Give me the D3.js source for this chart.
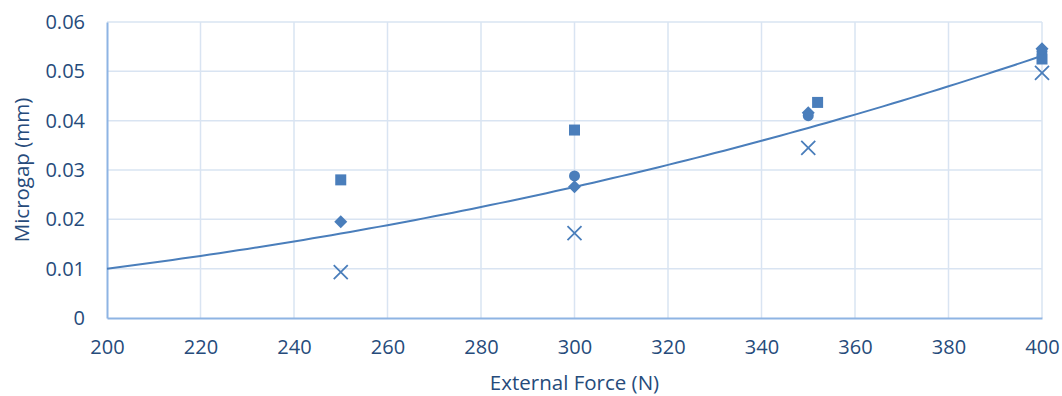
<!DOCTYPE html>
<html>
<head>
<meta charset="utf-8">
<script src="https://cdn.jsdelivr.net/npm/d3@7"></script>
<style>
  html, body { margin: 0; padding: 0; background: #fff; }
  svg { display: block; }
  text { font-family: "Open Sans", "Liberation Sans", sans-serif; fill: #264b7b; }
</style>
</head>
<body>
<svg id="chart" width="1062" height="396"></svg>
<script>
// External force applied (N)
const forces = [250, 300, 350, 400];

// Measured microgap (mm) for each specimen group (null = not measured)
const groupSquare  = [0.0280, 0.0381, 0.0437, 0.0525];
const groupCircle  = [null,   0.0288, 0.0410, 0.0540];
const groupDiamond = [0.0195, 0.0266, 0.0416, 0.0546];
const groupCross   = [0.0093, 0.0172, 0.0345, 0.0497];

// Power trendline y = c * (x / 200)^k
const trendAt200 = 0.0100;
const trendExponent = 2.41;

// Axis ticks
const xTicks = [200, 220, 240, 260, 280, 300, 320, 340, 360, 380, 400];
const yTicks = [0, 0.01, 0.02, 0.03, 0.04, 0.05, 0.06];

const svg = d3.select("#chart");
const margin = { left: 107, right: 20, top: 22, bottom: 78 };
const W = 1062, H = 396;

const x = d3.scaleLinear().domain([200, 400]).range([margin.left, W - margin.right]);
const y = d3.scaleLinear().domain([0, 0.06]).range([H - margin.bottom, margin.top]);

const markColor = "#4a7ebb";

// Gridlines
const grid = svg.append("g");
grid.selectAll("line.v").data(xTicks.slice(1)).join("line")
  .attr("x1", d => x(d)).attr("x2", d => x(d))
  .attr("y1", y(0)).attr("y2", y(0.06))
  .attr("stroke", "#d9e4f2").attr("stroke-width", 1.5);
grid.selectAll("line.h").data(yTicks.slice(1)).join("line")
  .attr("x1", x(200)).attr("x2", x(400))
  .attr("y1", d => y(d)).attr("y2", d => y(d))
  .attr("stroke", "#d9e4f2").attr("stroke-width", 1.5);

// Axes
const xAxis = d3.axisBottom(x).tickValues(xTicks).tickSize(0).tickPadding(22).tickFormat(d3.format("d"));
const yAxis = d3.axisLeft(y).tickValues(yTicks).tickSize(0).tickPadding(22)
  .tickFormat(d => d === 0 ? "0" : d3.format(".2f")(d));

const gx = svg.append("g").attr("transform", `translate(0,${y(0)})`).call(xAxis);
const gy = svg.append("g").attr("transform", `translate(${x(200)},0)`).call(yAxis);
[gx, gy].forEach(g => {
  g.select(".domain").attr("stroke", "#8eb4e3").attr("stroke-width", 2);
  g.selectAll(".tick text").style("font-size", "20px").attr("fill", "#264b7b");
});
gx.selectAll(".tick text").attr("dy", "0.71em");

// Trendline
const trendXs = d3.range(200, 400.001, 2);
const line = d3.line().x(d => x(d)).y(d => y(trendAt200 * Math.pow(d / 200, trendExponent)));
svg.append("path").datum(trendXs)
  .attr("d", line).attr("fill", "none")
  .attr("stroke", markColor).attr("stroke-width", 2);

// Markers
const groups = [
  { values: groupCross,   shape: "cross" },
  { values: groupCircle,  shape: "circle" },
  { values: groupSquare,  shape: "square" },
  { values: groupDiamond, shape: "diamond" }
];
const xOffsets = { 350: { square: 2 } };

groups.forEach(s => {
  const g = svg.append("g");
  s.values.forEach((v, i) => {
    if (v === null) return;
    const f = forces[i];
    const cx = x(f) + ((xOffsets[f] && xOffsets[f][s.shape]) ? x(f + xOffsets[f][s.shape]) - x(f) : 0);
    const cy = y(v);
    if (s.shape === "square") {
      g.append("rect").attr("x", cx - 5.5).attr("y", cy - 5.5)
        .attr("width", 11).attr("height", 11).attr("fill", markColor);
    } else if (s.shape === "circle") {
      g.append("circle").attr("cx", cx).attr("cy", cy).attr("r", 5.5).attr("fill", markColor);
    } else if (s.shape === "diamond") {
      g.append("path").attr("d", `M${cx},${cy - 6.5}L${cx + 6.5},${cy}L${cx},${cy + 6.5}L${cx - 6.5},${cy}Z`)
        .attr("fill", markColor);
    } else {
      g.append("path").attr("d", `M${cx - 7},${cy - 7}L${cx + 7},${cy + 7}M${cx + 7},${cy - 7}L${cx - 7},${cy + 7}`)
        .attr("stroke", markColor).attr("stroke-width", 1.8).attr("fill", "none");
    }
  });
});

// Axis titles
svg.append("text").attr("x", (x(200) + x(400)) / 2).attr("y", 390)
  .attr("text-anchor", "middle").style("font-size", "20.5px").text("External Force (N)");
svg.append("text").attr("transform", `translate(29,${(y(0) + y(0.06)) / 2}) rotate(-90)`)
  .attr("text-anchor", "middle").style("font-size", "20.5px").text("Microgap (mm)");
</script>
</body>
</html>
